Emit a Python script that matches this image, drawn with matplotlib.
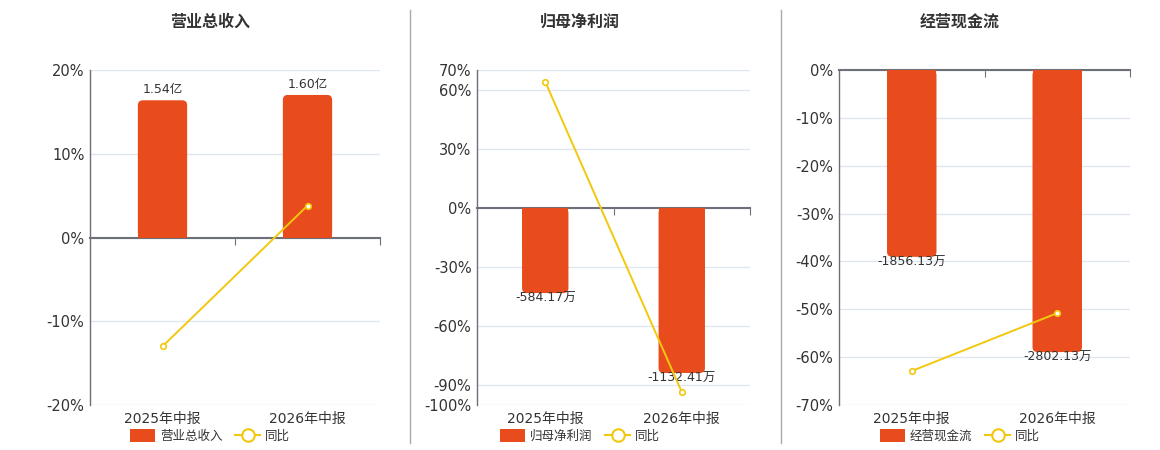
import matplotlib
matplotlib.use("Agg")
import matplotlib.pyplot as plt
from matplotlib.lines import Line2D
from matplotlib.patches import Patch, FancyBboxPatch, Rectangle

plt.rcParams['font.family'] = ['DejaVu Sans', 'Noto Sans CJK SC']

periods = ["2025年中报", "2026年中报"]

# 营业总收入 (亿)
revenue = [1.54, 1.60]
revenue_labels = ["1.54亿", "1.60亿"]
revenue_yoy = [-13.0, 3.8]

# 归母净利润 (万)
profit = [-584.17, -1132.41]
profit_labels = ["-584.17万", "-1132.41万"]
profit_yoy = [64.0, -93.4]

# 经营现金流 (万)
cashflow = [-1856.13, -2802.13]
cashflow_labels = ["-1856.13万", "-2802.13万"]
cashflow_yoy = [-62.9, -50.8]

W, H = 1160, 450
BAR = "#e84c1d"
LINE = "#f2c80f"
AXIS = "#6e7079"
GRID = "#e0e6f1"
TXT = "#333333"

fig = plt.figure(figsize=(W / 100, H / 100), dpi=100)


def round_bars(axb, container, px_w, px_h, radius=5):
    # swap each bar for one with rounded corners at the far end
    x0, x1 = axb.get_xlim()
    y0, y1 = axb.get_ylim()
    xu = (x1 - x0) / px_w
    yu = (y1 - y0) / px_h
    for r in container.patches:
        bx, by, bw, bh = r.get_x(), r.get_y(), r.get_width(), r.get_height()
        r.set_visible(False)
        lo = min(by, by + bh)
        axb.add_patch(FancyBboxPatch((bx, lo), bw, abs(bh),
                                     boxstyle=f"round,pad=0,rounding_size={radius * xu}",
                                     mutation_aspect=yu / xu, facecolor=BAR,
                                     edgecolor="none", zorder=2))
        # keep the end at zero square
        half = Rectangle((bx, by), bw, bh / 2, facecolor=BAR, edgecolor="none", zorder=2)
        axb.add_patch(half)


def draw_panel(rect, cx, title, name, bars, labels, yoy, yticks, ylim, barlim):
    pw, ph = rect[2] - rect[0], rect[3] - rect[1]
    ax = fig.add_axes([rect[0] / W, 1 - rect[3] / H, pw / W, ph / H])
    x = list(range(len(periods)))

    ax.set_ylim(*ylim)
    ax.set_xlim(-0.5, len(periods) - 0.5)
    ax.set_yticks(yticks)
    ax.set_yticklabels([f"{t}%" for t in yticks])
    ax.tick_params(axis="y", length=0, labelsize=10.5, labelcolor=TXT, pad=4)
    ax.grid(axis="y", color=GRID, linewidth=1)
    ax.set_axisbelow(True)
    for s in ["top", "right"]:
        ax.spines[s].set_visible(False)
    ax.spines["left"].set_color(AXIS)
    ax.spines["left"].set_linewidth(1)
    # zero line with boundary ticks
    ax.spines["bottom"].set_position(("data", 0))
    ax.spines["bottom"].set_color(AXIS)
    ax.spines["bottom"].set_linewidth(1.5)
    ax.set_xticks([i + 0.5 for i in x])
    ax.tick_params(axis="x", direction="out", length=5, color=AXIS, labelbottom=False)

    # category labels at bottom
    sec = ax.secondary_xaxis("bottom")
    sec.set_xticks(x)
    sec.set_xticklabels(periods)
    sec.tick_params(length=0, labelsize=10, labelcolor=TXT, pad=5)
    sec.spines["bottom"].set_visible(False)

    # bars on hidden scale
    axb = ax.twinx()
    axb.set_ylim(*barlim)
    axb.set_xlim(-0.5, len(periods) - 0.5)
    axb.axis("off")
    bc = axb.bar(x, bars, width=0.34, color=BAR, zorder=2)
    round_bars(axb, bc, pw, ph)
    for xi, v, lab in zip(x, bars, labels):
        if v >= 0:
            axb.annotate(lab, (xi, v), xytext=(0, 3), textcoords="offset points",
                         ha="center", va="bottom", fontsize=9, color=TXT)
        else:
            axb.annotate(lab, (xi, v), xytext=(0, 1), textcoords="offset points",
                         ha="center", va="top", fontsize=9, color=TXT)

    # yoy line on percentage scale
    axl = ax.twinx()
    axl.set_ylim(*ylim)
    axl.axis("off")
    axl.plot(x, yoy, color=LINE, linewidth=1.4, marker="o", markersize=4,
             markerfacecolor="white", markeredgecolor=LINE, markeredgewidth=1.2)

    fig.text(cx / W, 1 - 22 / H, title, ha="center", va="center",
             fontsize=11.5, fontweight="bold", color=TXT)
    handles = [Patch(facecolor=BAR),
               Line2D([], [], color=LINE, linewidth=1.5, marker="o", markersize=9,
                      markerfacecolor="white", markeredgecolor=LINE, markeredgewidth=1.5)]
    fig.legend(handles, [name, "同比"], loc="center", bbox_to_anchor=(cx / W, 1 - 436 / H),
               ncol=2, frameon=False, fontsize=9, handlelength=2.0, handleheight=1.2,
               columnspacing=1.0, handletextpad=0.4, labelcolor=TXT)


draw_panel((90, 70, 380, 405), 210, "营业总收入", "营业总收入", revenue, revenue_labels,
           revenue_yoy, [20, 10, 0, -10, -20], (-20, 20), (-1.88, 1.88))
draw_panel((477, 70, 750, 405), 580, "归母净利润", "归母净利润", profit, profit_labels,
           profit_yoy, [70, 60, 30, 0, -30, -60, -90, -100], (-100, 70), (-1352, 946))
draw_panel((839, 70, 1130, 405), 960, "经营现金流", "经营现金流", cashflow, cashflow_labels,
           cashflow_yoy, [0, -10, -20, -30, -40, -50, -60, -70], (-70, 0), (-3328, 0))

for xd in (410, 781):
    fig.add_artist(Line2D([xd / W, xd / W], [1 - 10 / H, 1 - 443 / H], color="#aaaaaa", linewidth=1))

fig.savefig("out.png", dpi=100)
